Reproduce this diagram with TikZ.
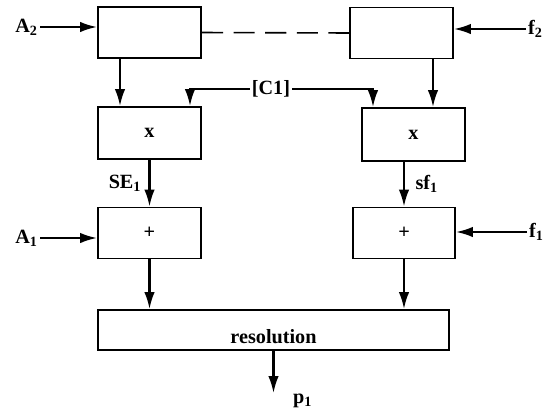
\documentclass[tikz,border=0pt]{standalone}
\usepackage{fontspec}
\setmainfont{Liberation Serif}
\usetikzlibrary{arrows.meta,positioning,calc}

\tikzset{
  blk/.style={draw,line width=1.1pt,minimum width=2.06cm,minimum height=1.02cm,inner sep=0pt},
  arr/.style={-{Latex[length=3.4mm,width=2.1mm]},line width=1.2pt},
  lbl/.style={font=\fontsize{11.5}{13}\selectfont\bfseries,inner sep=1pt}
}

\begin{document}
\begin{tikzpicture}[x=0.02cm,y=-0.02cm]
  \useasboundingbox (0,0) rectangle (553,413);

  % blocks
  \node[blk] (topL) at (149.5,32.5) {};
  \node[blk] (topR) at (401.5,33) {};
  \node[blk,lbl,minimum height=1.04cm] (mulL) at (149.5,133) {x};
  \node[blk,lbl,minimum height=1.06cm] (mulR) at (413.5,134.5) {x};
  \node[blk,lbl] (addL) at (149.5,233) {+};
  \node[blk,lbl,minimum width=2.04cm] (addR) at (404,233) {+};
  \node[blk,minimum width=7.02cm,minimum height=0.8cm,
        label={[lbl,yshift=-0.13cm]center:resolution}] (res) at (273.5,330) {};

  % inputs and outputs
  \node[lbl,anchor=east] (A2) at (40,27) {A\textsubscript{2}};
  \node[lbl,anchor=west] (F2) at (526,29) {f\textsubscript{2}};
  \node[lbl] (C1) at (271,89) {[C1]};
  \node[lbl,anchor=east] (A1) at (40,238) {A\textsubscript{1}};
  \node[lbl,anchor=west] (F1) at (527,232) {f\textsubscript{1}};
  \coordinate (out) at (273.5,393);
  \node[lbl,anchor=west] (P1) at (291,401) {p\textsubscript{1}};

  \draw[arr] (A2.east) -- (A2.east -| topL.west);
  \draw[arr] (F2.west) -- (F2.west -| topR.east);
  \draw[dashed,dash pattern=on 12pt off 6pt,line width=0.9pt] (topL.east) -- (topR.west);

  \draw[arr] ([xshift=-0.59cm]topL.south) -- ([xshift=-0.59cm]mulL.north);
  \draw[arr] ([xshift=0.63cm]topR.south) -- ([xshift=0.63cm]topR.south |- mulR.north);
  \draw[arr] (C1.west) -| ([xshift=0.81cm]mulL.north);
  \draw[arr] (C1.east) -| ([xshift=-0.81cm]mulR.north);

  \draw[arr] (mulL) -- node[lbl,left=3pt] {SE\textsubscript{1}} (addL);
  \draw[arr] (mulR.south -| addR.north) -- node[lbl,right=5pt] {sf\textsubscript{1}} (addR.north);

  \draw[arr] (A1.east) -- (A1.east -| addL.west);
  \draw[arr] (F1.west) -- (F1.west -| addR.east);

  \draw[arr] (addL) -- (addL |- res.north);
  \draw[arr] (addR.south) -- (addR.south |- res.north);
  \draw[arr] (res.south) -- (out);
\end{tikzpicture}
\end{document}
